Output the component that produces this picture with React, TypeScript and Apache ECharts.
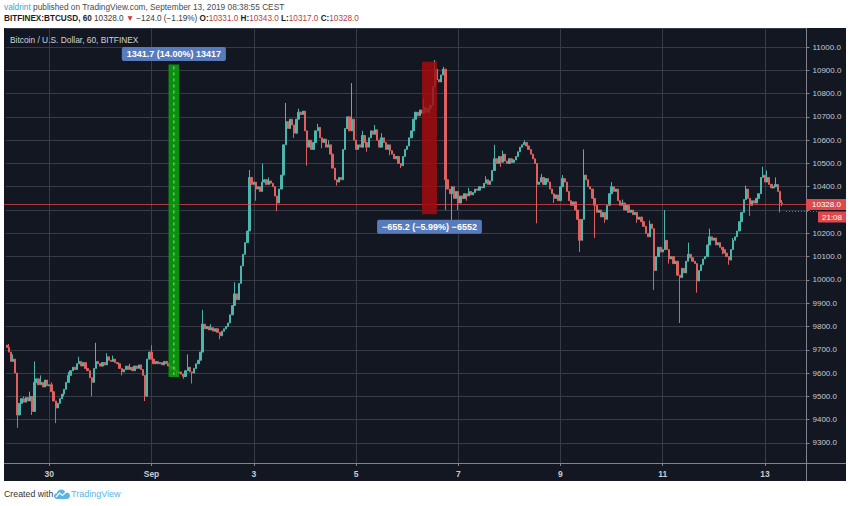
import React, { useEffect, useRef } from 'react';
import * as echarts from 'echarts';

// ---------- data ----------
const START_UTC = Date.UTC(2019, 7, 29, 4); // first hourly candle: Aug 29 04:00
const SLOT_COUNT = 376; // hourly slots on the time axis (includes empty right margin)
const FIRST_OPEN = 9720;

// hourly closes, one row per day
const closes: number[] = [
  // Aug 29 (04:00-23:00)
  9710, 9690, 9650, 9660, 9600, 9420, 9470, 9490, 9475, 9495, 9480, 9500, 9435, 9560, 9575, 9550, 9560, 9540, 9570, 9545,
  // Aug 30
  9550, 9520, 9480, 9450, 9470, 9490, 9510, 9530, 9560, 9590, 9610, 9625, 9615, 9640, 9650, 9630, 9645, 9620, 9610, 9580, 9560, 9620, 9650, 9640,
  // Aug 31
  9630, 9645, 9635, 9670, 9655, 9650, 9660, 9645, 9640, 9620, 9605, 9615, 9630, 9615, 9625, 9610, 9630, 9620, 9635, 9615, 9590, 9500, 9660, 9690,
  // Sep 1
  9660, 9640, 9650, 9640, 9645, 9635, 9650, 9640, 9630, 9620, 9625, 9610, 9600, 9605, 9595, 9585, 9610, 9625, 9605, 9600, 9620, 9640, 9655, 9690,
  // Sep 2
  9810, 9790, 9800, 9785, 9795, 9780, 9790, 9775, 9760, 9780, 9790, 9800, 9815, 9850, 9890, 9940, 9915, 9985, 10060, 10110, 10160, 10210, 10440, 10410,
  // Sep 3
  10420, 10390, 10400, 10380, 10420, 10430, 10410, 10425, 10415, 10400, 10360, 10330, 10390, 10450, 10580, 10680, 10650, 10690, 10665, 10630, 10690, 10720, 10710, 10725,
  // Sep 4
  10640, 10570, 10600, 10560, 10590, 10640, 10655, 10610, 10590, 10605, 10570, 10580, 10540, 10480, 10430, 10420, 10440, 10430, 10560, 10650, 10700, 10640, 10690, 10600,
  // Sep 5
  10560, 10580, 10570, 10620, 10590, 10570, 10610, 10640, 10625, 10645, 10600, 10570, 10610, 10590, 10560, 10580, 10555, 10540, 10520, 10530, 10500, 10490, 10530, 10560,
  // Sep 6
  10575, 10610, 10640, 10690, 10720, 10705, 10730, 10715, 10740, 10720, 10735, 10750, 10830, 10905, 10860, 10850, 10880, 10905, 10430, 10390, 10370, 10400, 10350, 10380,
  // Sep 7
  10330, 10360, 10350, 10370, 10360, 10380, 10365, 10375, 10390, 10385, 10400, 10395, 10415, 10430, 10410, 10425, 10470, 10520, 10500, 10530, 10505, 10540, 10510, 10500,
  // Sep 8
  10520, 10505, 10515, 10530, 10550, 10570, 10580, 10590, 10575, 10560, 10540, 10520, 10500, 10410, 10420, 10440, 10410, 10435, 10420, 10390, 10370, 10350, 10365, 10340,
  // Sep 9
  10400, 10435, 10420, 10380, 10340, 10320, 10335, 10300, 10260, 10170, 10260, 10450, 10430, 10400, 10390, 10350, 10320, 10290, 10300, 10270, 10290, 10260, 10320, 10370,
  // Sep 10
  10400, 10380, 10390, 10340, 10320, 10330, 10300, 10320, 10290, 10300, 10280, 10290, 10260, 10270, 10250, 10230, 10200, 10185, 10240, 10220, 10040, 10100, 10140, 10120,
  // Sep 11
  10130, 10170, 10130, 10090, 10100, 10070, 10080, 10020, 10010, 10050, 10030, 10080, 10110, 10095, 10080, 10070, 9995, 10040, 10065, 10090, 10100, 10150, 10185, 10170,
  // Sep 12
  10180, 10150, 10160, 10140, 10130, 10115, 10100, 10085, 10130, 10170, 10185, 10210, 10250, 10290, 10345, 10390, 10350, 10320, 10340, 10330, 10350, 10370, 10440, 10450,
  // Sep 13 (00:00-08:00)
  10420, 10440, 10410, 10395, 10400, 10410, 10380, 10331, 10328,
];

// visible wick extremes (candle index -> price)
const wickHighs: Record<number, number> = {
  1: 9725, 3: 9680, 8: 9500, 11: 9520, 13: 9650, 16: 9590, 21: 9560, 29: 9605, 34: 9670,
  42: 9730, 47: 9685, 50: 9675, 58: 9640, 68: 9720, 85: 9680, 92: 9871, 96: 9810,
  107: 9990, 114: 10472, 120: 10500, 123: 10440, 131: 10760, 137: 10735, 146: 10670,
  151: 10600, 162: 10845, 167: 10640, 173: 10665, 176: 10630, 196: 10780, 201: 10944,
  205: 10915, 217: 10395, 225: 10445, 229: 10580, 233: 10555, 243: 10600, 251: 10455,
  261: 10450, 271: 10560, 284: 10420, 289: 10345, 302: 10255, 309: 10300, 320: 10160,
  330: 10220, 341: 10180, 347: 10405, 355: 10486, 357: 10470, 361: 10440, 364: 10343,
};
const wickLows: Record<number, number> = {
  5: 9365, 12: 9420, 23: 9385, 27: 9500, 40: 9500, 54: 9590, 65: 9480, 80: 9585,
  83: 9575, 87: 9555, 100: 9745, 117: 10340, 127: 10295, 135: 10610, 141: 10490,
  148: 10565, 155: 10405, 169: 10550, 180: 10535, 185: 10480, 206: 10300, 209: 10245,
  212: 10300, 216: 10340, 232: 10485, 249: 10243, 257: 10330, 269: 10120, 276: 10180,
  281: 10245, 296: 10245, 304: 9957, 311: 10070, 316: 9815, 324: 9945, 336: 10110,
  339: 10065, 349: 10275, 363: 10290, 364: 10317,
};

const dayTickDates = ['08-30', '09-01', '09-03', '09-05', '09-07', '09-09', '09-11', '09-13'];
const dayTickLabels = ['30', 'Sep', '3', '5', '7', '9', '11', '13'];

const PRICE_MIN = 9213.8;
const PRICE_MAX = 11081.6;
const LAST_PRICE = 10328.0;

const measureUp = { fromIdx: 76, toIdx: 81, low: 9583, high: 10925, label: '1341.7 (14.00%) 13417' };
const measureDown = { fromIdx: 195, toIdx: 202, low: 10282, high: 10937, label: '\u2212655.2 (\u22125.99%) \u22126552' };

// ---------- styles ----------
const FONT = '"Liberation Sans", Arial, sans-serif';
const UP = '#4db6ac';
const DOWN = '#e0605e';
const GRID = '#373b48';
const AXIS_TEXT = '#c8cbd3';
const AXIS_LINE = '#80838c';
const PRICE_RED = '#e0484c';

const pad = (n: number) => String(n).padStart(2, '0');
const categories = Array.from({ length: SLOT_COUNT }, (_, i) => {
  const d = new Date(START_UTC + i * 3600000);
  return `${pad(d.getUTCMonth() + 1)}-${pad(d.getUTCDate())} ${pad(d.getUTCHours())}:00`;
});
const tickLabelByCat: Record<string, string> = {};
dayTickDates.forEach((d, k) => { tickLabelByCat[`${d} 00:00`] = dayTickLabels[k]; });
const isTick = (index: number) => tickLabelByCat[categories[index]] !== undefined;

const candles = closes.map((c, i) => {
  const o = i === 0 ? FIRST_OPEN : closes[i - 1];
  const hi = wickHighs[i] ?? Math.max(o, c);
  const lo = wickLows[i] ?? Math.min(o, c);
  return [o, c, lo, hi];
});

echarts.graphic.registerShape(
  'tvlogo',
  echarts.graphic.extendPath(
    'M3 10 C1.2 10 0 8.6 0 7 C0 5.5 1.2 4.3 2.7 4.2 C3.2 2 5 0.5 7.2 0.5 C9.2 0.5 10.9 1.8 11.5 3.6 C11.9 3.5 12.3 3.4 12.7 3.4 C14.5 3.4 16 4.9 16 6.7 C16 8.5 14.5 10 12.7 10 Z',
    {}
  ) as any
);

export default function App() {
  const ref = useRef<HTMLDivElement>(null);

  useEffect(() => {
    if (!ref.current) return;
    const chart = echarts.init(ref.current, undefined, { renderer: 'svg' });

    chart.setOption({
      animation: false,
      backgroundColor: 'transparent',
      grid: { left: 5.6, right: 43.5, top: 28, bottom: 43, containLabel: false },
      xAxis: {
        type: 'category',
        data: categories,
        boundaryGap: true,
        axisLine: { show: false },
        axisTick: { show: true, interval: isTick, alignWithLabel: true, length: 3, lineStyle: { color: AXIS_LINE } },
        axisLabel: {
          interval: isTick,
          formatter: (v: string) => tickLabelByCat[v] ?? '',
          color: AXIS_TEXT, fontSize: 8.5, fontWeight: 'bold', fontFamily: FONT, margin: 6,
        },
        splitLine: { show: true, interval: isTick, alignWithLabel: true, lineStyle: { color: GRID, width: 1 } },
      },
      yAxis: {
        type: 'value',
        position: 'right',
        min: PRICE_MIN,
        max: PRICE_MAX,
        splitNumber: 18,
        minInterval: 100,
        maxInterval: 100,
        axisLine: { show: false },
        axisTick: { show: true, length: 3, lineStyle: { color: AXIS_LINE } },
        axisLabel: {
          showMinLabel: false, showMaxLabel: false,
          // labels hidden under the last-price boxes are dropped, as on the reference
          formatter: (v: number) =>
            Math.abs(v - Math.round(v / 100) * 100) < 0.01 && Math.abs(v - LAST_PRICE) > 40 ? v.toFixed(1) : '',
          color: AXIS_TEXT, fontSize: 8, fontFamily: FONT, margin: 6,
        },
        splitLine: { show: true, lineStyle: { color: GRID, width: 1 } },
      },
      series: [
        {
          type: 'candlestick',
          data: candles,
          barWidth: 1.8,
          itemStyle: { color: UP, color0: DOWN, borderColor: UP, borderColor0: DOWN, borderWidth: 1 },
        },
      ],
    });

    const px = (i: number, v: number) => chart.convertToPixel({ gridIndex: 0 }, [i, v]) as number[];

    const a0 = px(measureUp.fromIdx, measureUp.high);
    const a1 = px(measureUp.toIdx, measureUp.low);
    const b0 = px(measureDown.fromIdx, measureDown.high);
    const b1 = px(measureDown.toIdx, measureDown.low);
    const priceY = Math.round(px(0, LAST_PRICE)[1]) + 0.5;
    const upMid = (a0[0] + a1[0]) / 2;
    const downMid = (b0[0] + b1[0]) / 2;

    chart.setOption({
      graphic: [
        // last price line
        {
          type: 'line', z: 4, silent: true,
          shape: { x1: 4, y1: priceY, x2: 806, y2: priceY },
          style: { stroke: 'rgba(224,72,76,0.75)', lineWidth: 1 },
        },
        // axis frame lines
        { type: 'line', z: 5, shape: { x1: 806.5, y1: 28, x2: 806.5, y2: 481 }, style: { stroke: AXIS_LINE, lineWidth: 1 } },
        { type: 'line', z: 5, shape: { x1: 4, y1: 463.5, x2: 846, y2: 463.5 }, style: { stroke: AXIS_LINE, lineWidth: 1 } },
        // header
        {
          type: 'text', x: 4, y: 7, z: 20,
          style: {
            text: '{u|valdrint}{t| published on TradingView.com, September 13, 2019 08:38:55 CEST}',
            fontFamily: FONT, fontSize: 8.3, verticalAlign: 'middle',
            rich: { u: { fill: '#3aa3cf', fontSize: 8.3, fontFamily: FONT }, t: { fill: '#4a4a4a', fontSize: 8.3, fontFamily: FONT } },
          },
        },
        {
          type: 'text', x: 4, y: 18.5, z: 20,
          style: {
            text: '{b|BITFINEX:BTCUSD, 60} {d|10328.0} {r|\u25BC} {d|\u2212124.0 (\u22121.19%)} {b|O:}{v|10331.0} {b|H:}{v|10343.0} {b|L:}{v|10317.0} {b|C:}{v|10328.0}',
            fontFamily: FONT, fontSize: 8.2, verticalAlign: 'middle',
            rich: {
              b: { fill: '#1e1e1e', fontWeight: 'bold', fontSize: 8.2, fontFamily: FONT },
              d: { fill: '#3a3a3a', fontSize: 8.2, fontFamily: FONT },
              r: { fill: '#d8363a', fontSize: 8.2, fontFamily: FONT },
              v: { fill: '#b8403f', fontSize: 8.2, fontFamily: FONT },
            },
          },
        },
        // pane title
        {
          type: 'text', x: 10, y: 40, z: 20,
          style: { text: 'Bitcoin / U.S. Dollar, 60, BITFINEX', fill: '#d1d4dc', fontFamily: FONT, fontSize: 8.4, verticalAlign: 'middle' },
        },
        // measurement: up (green)
        {
          type: 'rect', z: 10,
          shape: { x: a0[0], y: a0[1], width: a1[0] - a0[0], height: a1[1] - a0[1] },
          style: { fill: 'rgba(10,165,10,0.85)' },
        },
        {
          type: 'line', z: 11,
          shape: { x1: upMid, y1: a0[1] + 2, x2: upMid, y2: a1[1] - 2 },
          style: { stroke: '#8ee08e', lineWidth: 1, lineDash: [3, 3] },
        },
        {
          type: 'text', x: upMid, y: a0[1] - 3.5, z: 12,
          style: {
            text: measureUp.label, fill: '#ffffff', fontFamily: FONT, fontSize: 9, fontWeight: 'bold',
            align: 'center', verticalAlign: 'bottom',
            backgroundColor: '#587bbb', padding: [3, 5, 2, 5], borderRadius: 2,
          },
        },
        // measurement: down (red)
        {
          type: 'rect', z: 10,
          shape: { x: b0[0], y: b0[1], width: b1[0] - b0[0], height: b1[1] - b0[1] },
          style: { fill: 'rgba(165,12,14,0.85)' },
        },
        {
          type: 'text', x: downMid, y: b1[1] + 5.5, z: 12,
          style: {
            text: measureDown.label, fill: '#ffffff', fontFamily: FONT, fontSize: 9, fontWeight: 'bold',
            align: 'center', verticalAlign: 'top',
            backgroundColor: '#587bbb', padding: [3, 5, 2, 5], borderRadius: 2,
          },
        },
        // last price labels on the price axis
        { type: 'rect', z: 15, shape: { x: 806, y: priceY - 5.5, width: 40, height: 11 }, style: { fill: PRICE_RED } },
        {
          type: 'text', x: 812, y: priceY, z: 16,
          style: { text: LAST_PRICE.toFixed(1), fill: '#ffffff', fontFamily: FONT, fontSize: 8, verticalAlign: 'middle' },
        },
        { type: 'rect', z: 15, shape: { x: 818, y: priceY + 7, width: 28, height: 11 }, style: { fill: PRICE_RED } },
        {
          type: 'text', x: 832, y: priceY + 12.5, z: 16,
          style: { text: '21:08', fill: '#ffffff', fontFamily: FONT, fontSize: 8, align: 'center', verticalAlign: 'middle' },
        },
        {
          type: 'line', z: 14,
          shape: { x1: 786, y1: priceY + 7, x2: 818, y2: priceY + 7 },
          style: { stroke: '#c8464e', lineWidth: 1, lineDash: [1, 2] },
        },
        // footer
        {
          type: 'text', x: 4, y: 494, z: 20,
          style: { text: 'Created with', fill: '#333333', fontFamily: FONT, fontSize: 8.8, verticalAlign: 'middle' },
        },
        { type: 'tvlogo', x: 54, y: 489, scaleX: 1, scaleY: 1, z: 20, style: { fill: '#5ab4e4' } },
        {
          type: 'polyline', z: 21,
          shape: { points: [[56, 497], [59.5, 493], [62.5, 495.5], [67.5, 490.5]] },
          style: { stroke: '#ffffff', lineWidth: 1.2, fill: 'none' },
        },
        {
          type: 'text', x: 71, y: 494, z: 20,
          style: { text: 'TradingView', fill: '#5ab4e4', fontFamily: FONT, fontSize: 9, verticalAlign: 'middle' },
        },
      ],
    });

    return () => chart.dispose();
  }, []);

  return (
    <div style={{ position: 'fixed', left: 0, top: 0, width: 850, height: 506, background: '#ffffff', overflow: 'hidden' }}>
      <div style={{ position: 'absolute', left: 4, top: 28, width: 842, height: 453, background: '#131722' }} />
      <div ref={ref} style={{ position: 'absolute', left: 0, top: 0, width: 850, height: 506 }} />
    </div>
  );
}
